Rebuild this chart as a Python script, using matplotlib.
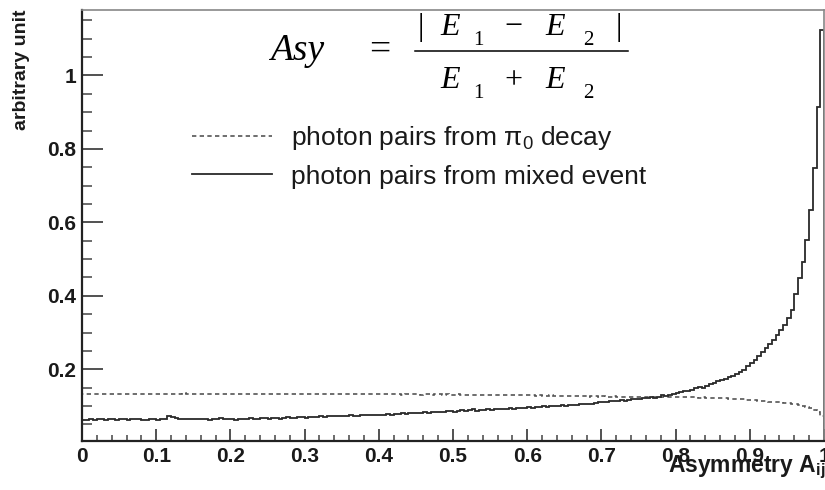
import numpy as np
import matplotlib
matplotlib.use("Agg")
import matplotlib.pyplot as plt
from matplotlib.lines import Line2D
from matplotlib.ticker import FixedLocator, MultipleLocator, FuncFormatter

# ---------------- data ----------------
bin_lo, bin_hi, n_bins = 0.0, 1.0, 200

mixed_event = [
    # 0.0 - 0.1
    0.062, 0.063, 0.064, 0.063, 0.065, 0.064, 0.063, 0.065, 0.064, 0.062,
    0.064, 0.065, 0.063, 0.064, 0.066, 0.064, 0.063, 0.062, 0.065, 0.064,
    # 0.1 - 0.2
    0.063, 0.064, 0.066, 0.072, 0.069, 0.067, 0.066, 0.065, 0.066, 0.065,
    0.064, 0.066, 0.065, 0.064, 0.063, 0.065, 0.066, 0.067, 0.065, 0.064,
    # 0.2 - 0.3
    0.065, 0.063, 0.066, 0.064, 0.065, 0.067, 0.066, 0.065, 0.067, 0.068,
    0.066, 0.067, 0.068, 0.066, 0.067, 0.069, 0.068, 0.067, 0.069, 0.070,
    # 0.3 - 0.4
    0.068, 0.069, 0.071, 0.070, 0.072, 0.071, 0.073, 0.072, 0.074, 0.073,
    0.072, 0.074, 0.075, 0.074, 0.073, 0.075, 0.076, 0.075, 0.077, 0.076,
    # 0.4 - 0.5
    0.077, 0.076, 0.078, 0.077, 0.079, 0.078, 0.080, 0.079, 0.081, 0.080,
    0.082, 0.081, 0.083, 0.082, 0.084, 0.083, 0.085, 0.084, 0.086, 0.087,
    # 0.5 - 0.6
    0.085, 0.088, 0.090, 0.087, 0.089, 0.091, 0.088, 0.090, 0.089, 0.091,
    0.090, 0.092, 0.091, 0.093, 0.092, 0.094, 0.093, 0.095, 0.096, 0.095,
    # 0.6 - 0.7
    0.097, 0.096, 0.098, 0.097, 0.099, 0.098, 0.100, 0.101, 0.100, 0.102,
    0.101, 0.103, 0.104, 0.103, 0.105, 0.106, 0.105, 0.107, 0.109, 0.110,
    # 0.7 - 0.8
    0.111, 0.112, 0.113, 0.113, 0.115, 0.116, 0.115, 0.117, 0.118, 0.119,
    0.120, 0.122, 0.121, 0.124, 0.123, 0.126, 0.129, 0.127, 0.131, 0.134,
    # 0.8 - 0.9
    0.136, 0.139, 0.142, 0.140, 0.145, 0.148, 0.151, 0.150, 0.155, 0.159,
    0.163, 0.167, 0.171, 0.175, 0.179, 0.183, 0.188, 0.193, 0.198, 0.210,
    # 0.9 - 1.0
    0.218, 0.226, 0.236, 0.246, 0.258, 0.270, 0.281, 0.293, 0.306, 0.322,
    0.340, 0.362, 0.405, 0.448, 0.493, 0.552, 0.633, 0.748, 0.915, 1.123,
]

pi0_decay = [
    # 0.0 - 0.1
    0.133, 0.134, 0.133, 0.133, 0.134, 0.133, 0.132, 0.133, 0.134, 0.133,
    0.133, 0.132, 0.133, 0.134, 0.133, 0.133, 0.134, 0.133, 0.132, 0.133,
    # 0.1 - 0.2
    0.133, 0.134, 0.133, 0.133, 0.132, 0.133, 0.134, 0.135, 0.133, 0.132,
    0.133, 0.133, 0.134, 0.133, 0.132, 0.133, 0.133, 0.134, 0.133, 0.133,
    # 0.2 - 0.3
    0.133, 0.132, 0.133, 0.134, 0.133, 0.133, 0.132, 0.133, 0.133, 0.134,
    0.133, 0.132, 0.133, 0.133, 0.134, 0.133, 0.132, 0.133, 0.133, 0.132,
    # 0.3 - 0.4
    0.133, 0.133, 0.132, 0.133, 0.134, 0.133, 0.132, 0.133, 0.132, 0.133,
    0.133, 0.134, 0.132, 0.133, 0.132, 0.133, 0.133, 0.132, 0.133, 0.132,
    # 0.4 - 0.5
    0.132, 0.133, 0.132, 0.132, 0.133, 0.132, 0.131, 0.132, 0.133, 0.132,
    0.132, 0.131, 0.132, 0.132, 0.131, 0.132, 0.132, 0.131, 0.132, 0.131,
    # 0.5 - 0.6
    0.131, 0.132, 0.131, 0.131, 0.130, 0.131, 0.131, 0.130, 0.131, 0.130,
    0.130, 0.131, 0.130, 0.130, 0.129, 0.130, 0.130, 0.129, 0.129, 0.130,
    # 0.6 - 0.7
    0.129, 0.129, 0.128, 0.129, 0.128, 0.128, 0.129, 0.128, 0.128, 0.127,
    0.128, 0.127, 0.127, 0.128, 0.127, 0.127, 0.126, 0.127, 0.127, 0.126,
    # 0.7 - 0.8
    0.127, 0.126, 0.126, 0.127, 0.126, 0.126, 0.125, 0.126, 0.126, 0.125,
    0.126, 0.125, 0.125, 0.126, 0.125, 0.125, 0.124, 0.125, 0.125, 0.124,
    # 0.8 - 0.9
    0.125, 0.124, 0.124, 0.125, 0.124, 0.124, 0.123, 0.124, 0.123, 0.123,
    0.122, 0.122, 0.121, 0.121, 0.120, 0.120, 0.119, 0.119, 0.118, 0.117,
    # 0.9 - 1.0
    0.117, 0.116, 0.115, 0.114, 0.113, 0.112, 0.112, 0.111, 0.110, 0.109,
    0.108, 0.107, 0.105, 0.103, 0.101, 0.098, 0.094, 0.089, 0.083, 0.072,
]

x_ticks = [0, 0.1, 0.2, 0.3, 0.4, 0.5, 0.6, 0.7, 0.8, 0.9, 1.0]
y_ticks = [0.2, 0.4, 0.6, 0.8, 1.0]
label_pi0 = "photon pairs from \u03c0$_0$ decay"
label_mixed = "photon pairs from mixed event"
x_title = r"Asymmetry A$_{\mathbf{ij}}$"
y_title = "arbitrary unit"

# ---------------- style ----------------
plt.rcParams["font.family"] = ["Liberation Sans", "DejaVu Sans"]
plt.rcParams["mathtext.fontset"] = "custom"
plt.rcParams["mathtext.rm"] = "Liberation Sans"
plt.rcParams["mathtext.it"] = "Liberation Sans:italic"
plt.rcParams["mathtext.bf"] = "Liberation Sans:bold"

W, H = 825, 490
fig = plt.figure(figsize=(W / 100, H / 100), dpi=100)

def fx(px):
    return px / W

def fy(py):
    return 1 - py / H

ax_l, ax_r, ax_t, ax_b = 82, 824, 10, 441
ax = fig.add_axes([fx(ax_l), fy(ax_b), (ax_r - ax_l) / W, (ax_b - ax_t) / H])

dash = (0, (2.6, 2.0))
edges = np.linspace(bin_lo, bin_hi, n_bins + 1)
ax.stairs(pi0_decay, edges, color="#555555", lw=1.2, linestyle=dash)
ax.stairs(mixed_event, edges, color="#2a2a2a", lw=1.3)

ax.set_xlim(0, 1)
ax.set_ylim(0.005, 1.178)

# spines
for s in ["left", "bottom"]:
    ax.spines[s].set_linewidth(1.6)
    ax.spines[s].set_color("#222222")
for s in ["top", "right"]:
    ax.spines[s].set_linewidth(1.2)
    ax.spines[s].set_color("#888888")

ax.xaxis.set_major_locator(FixedLocator(x_ticks))
ax.xaxis.set_minor_locator(MultipleLocator(0.02))
ax.yaxis.set_major_locator(FixedLocator(y_ticks))
ax.yaxis.set_minor_locator(MultipleLocator(0.05))
fmt = FuncFormatter(lambda v, p: f"{v:g}")
ax.xaxis.set_major_formatter(fmt)
ax.yaxis.set_major_formatter(fmt)

ax.tick_params(axis="y", which="major", direction="in", length=15, width=1.2,
               color="#333333", pad=4.3, labelsize=15)
ax.tick_params(axis="y", which="minor", direction="in", length=7.2, width=1.1,
               color="#444444")
ax.tick_params(axis="x", which="major", direction="in", length=9, width=1.2,
               color="#333333", pad=4.0, labelsize=15)
ax.tick_params(axis="x", which="minor", direction="in", length=4.3, width=1.1,
               color="#444444")
for lab in ax.get_xticklabels() + ax.get_yticklabels():
    lab.set_fontweight("bold")
    lab.set_color("#1a1a1a")

# axis titles
fig.text(fx(22), fy(10), y_title, rotation=90, ha="center", va="top",
         fontsize=14, fontweight="bold", color="#1a1a1a")
fig.text(fx(826), fy(472), x_title, ha="right", va="baseline",
         fontsize=16.5, fontweight="bold", color="#1a1a1a")

# legend
handles = [Line2D([], [], color="#555555", lw=1.2, linestyle=dash),
           Line2D([], [], color="#2a2a2a", lw=1.3)]
leg = fig.legend(handles, [label_pi0, label_mixed], loc="upper left",
                 bbox_to_anchor=(fx(192), fy(124)), bbox_transform=fig.transFigure,
                 frameon=False, fontsize=19, handlelength=3.03, handletextpad=0.72,
                 labelspacing=0.48, borderpad=0, borderaxespad=0)
for t in leg.get_texts():
    t.set_color("#1a1a1a")

# formula
serif = "Liberation Serif"
big, mid, small = 27, 23, 15

def ftxt(px, py, s, size, style="normal", ha="left"):
    fig.text(fx(px), fy(py), s, fontsize=size, family=serif, style=style,
             ha=ha, va="baseline", color="black")

ftxt(270, 60, "Asy", big, "italic")
ftxt(380, 60, "=", big, ha="center")
# numerator
ftxt(421, 35, "|", mid, ha="center")
ftxt(440, 35, "E", mid, "italic")
ftxt(478, 45, "1", small, ha="center")
ftxt(513, 35, "\u2212", mid, ha="center")
ftxt(545, 35, "E", mid, "italic")
ftxt(588, 45, "2", small, ha="center")
ftxt(619, 35, "|", mid, ha="center")
# denominator
ftxt(440, 88, "E", mid, "italic")
ftxt(478, 98, "1", small, ha="center")
ftxt(513, 88, "+", mid, ha="center")
ftxt(545, 88, "E", mid, "italic")
ftxt(588, 98, "2", small, ha="center")
fig.add_artist(Line2D([fx(415), fx(628)], [fy(50.7), fy(50.7)],
                      transform=fig.transFigure, color="black", lw=1.1))

fig.savefig("out.png", dpi=100)
